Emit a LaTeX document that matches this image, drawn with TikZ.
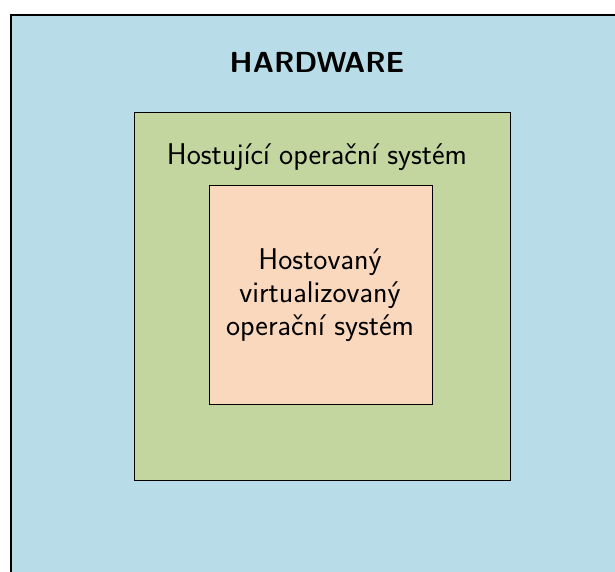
\documentclass[tikz,border=0pt]{standalone}
\usetikzlibrary{positioning}
\definecolor{hwblue}{RGB}{184,221,232}
\definecolor{hostgreen}{RGB}{196,214,160}
\definecolor{guestorange}{RGB}{250,216,190}
\tikzset{
    layer/.style={draw=black, line width=1.2pt, inner sep=0pt},
    label text/.style={font=\sffamily\fontsize{30}{33}\selectfont, align=center}
}
\begin{document}
\begin{tikzpicture}[x=1pt,y=-1pt]

    \useasboundingbox (0,0) rectangle (615,571);
    \clip (0,0) rectangle (615,571);

    % hardware
    \node[layer, fill=hwblue, line width=2pt, minimum width=620pt, minimum height=570pt,
        anchor=north west] (hw) at (10,14) {};
    \node[font=\sffamily\bfseries\fontsize{29}{34}\selectfont] (hwlabel) at (317,62) {HARDWARE};

    % host system
    \node[layer, fill=hostgreen, minimum width=376pt, minimum height=368pt,
        anchor=north west] (host) at (134,112) {};
    \node[label text] (hostlabel) at (317,157) {Hostující operační systém};

    % guest system
    \node[layer, fill=guestorange, minimum width=223pt, minimum height=219pt,
        anchor=north west] (guest) at (209,185) {};
    \node[label text] (guestlabel) at (320,295)
        {Hostovaný\\virtualizovaný\\operační systém};

\end{tikzpicture}
\end{document}
